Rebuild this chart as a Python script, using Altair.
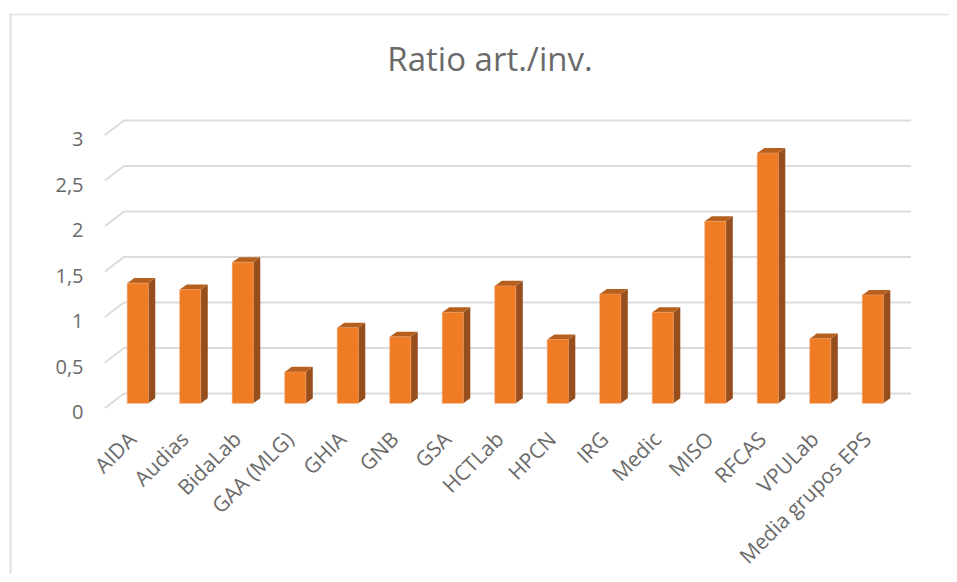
import altair as alt
import pandas as pd

categories = ["AIDA", "Audias", "BidaLab", "GAA (MLG)", "GHIA", "GNB", "GSA", "HCTLab", "HPCN",
              "IRG", "Medic", "MISO", "RFCAS", "VPULab", "Media grupos EPS"]
values = [1.32, 1.25, 1.55, 0.345, 0.83, 0.73, 1.0, 1.29, 0.70, 1.2, 1.0, 2.0, 2.75, 0.71, 1.19]
ticks = [0, 0.5, 1, 1.5, 2, 2.5, 3]

FONT = "Open Sans"
TEXT = "#6a6a6a"
W, H = 941, 566
xdom = [-2.472, 15.451]
ydom = [-1.876, 4.344]
HALF = 0.2            # half bar width, in category units
DX, DY = 0.133, 0.056  # bar depth
WALL_L, WALL_B, WALL_R = -0.263, 0.108, 14.728
FRONT_L, FRONT_D = -0.625, -0.052

bars = pd.DataFrame({"i": range(len(categories)), "cat": categories, "v": values})
bars["x0"] = bars.i - HALF
bars["x1"] = bars.i + HALF

side_rows, top_rows, grid_rows = [], [], []
for i, v in enumerate(values):
    r = i + HALF
    l = i - HALF
    side_rows += [dict(b=i, x=r, y=v, y2=0), dict(b=i, x=r + DX, y=v + DY, y2=DY)]
    top_rows += [dict(b=i, x=l, y=v, y2=v), dict(b=i, x=l + DX, y=v + DY, y2=v),
                 dict(b=i, x=r, y=v + DY, y2=v), dict(b=i, x=r + DX, y=v + DY, y2=v + DY)]
for t in ticks:
    grid_rows += [dict(t=t, o=0, x=FRONT_L, y=t + FRONT_D), dict(t=t, o=1, x=WALL_L, y=t + WALL_B),
                  dict(t=t, o=2, x=WALL_R, y=t + WALL_B)]

X = alt.Scale(domain=xdom, nice=False, zero=False)
Y = alt.Scale(domain=ydom, nice=False, zero=False)
names = "[" + ",".join("'%s'" % c for c in categories) + "]"

x_axis = alt.Axis(values=list(range(len(categories))), labelExpr=names + "[datum.value]",
                  labelAngle=-45, labelAlign="right", labelBaseline="middle", labelFont=FONT, labelFontSize=21,
                  labelColor=TEXT, labelOverlap=False, labelBound=False, labelFlush=False,
                  ticks=False, domain=False, grid=False, title=None, offset=-144, labelPadding=6, labelOffset=-5)
y_axis = alt.Axis(values=ticks, labelExpr="replace(format(datum.value,'~g'),'.',',')",
                  labelFont=FONT, labelFontSize=20, labelColor=TEXT, labelOverlap=False, labelBound=False,
                  labelOffset=9.5, ticks=False, domain=False, grid=False, title=None, offset=-75, labelPadding=0)

grid = alt.Chart(pd.DataFrame(grid_rows)).mark_line(color="#dcdcdc", strokeWidth=2).encode(
    x=alt.X("x:Q", scale=X, axis=x_axis), y=alt.Y("y:Q", scale=Y, axis=y_axis), detail="t:N", order="o:Q")

side = alt.Chart(pd.DataFrame(side_rows)).mark_area(color="#964e1c").encode(
    x=alt.X("x:Q", scale=X, axis=x_axis), y=alt.Y("y:Q", scale=Y, axis=y_axis), y2="y2:Q", detail="b:N")
top = alt.Chart(pd.DataFrame(top_rows)).mark_area(color="#b5601f").encode(
    x=alt.X("x:Q", scale=X, axis=x_axis), y=alt.Y("y:Q", scale=Y, axis=y_axis), y2="y2:Q", detail="b:N")
front = alt.Chart(bars).mark_bar(color="#EF7B24", stroke="#f09a5f", strokeWidth=0.6).encode(
    x=alt.X("x0:Q", scale=X, axis=x_axis), x2="x1:Q",
    y=alt.Y("v:Q", scale=Y, axis=y_axis), y2=alt.datum(0))

one = pd.DataFrame({"a": [0]})
border_l = alt.Chart(one).mark_rule(color="#e4e4e4", strokeWidth=2.5).encode(
    x=alt.value(2.5), y=alt.value(6), y2=alt.value(H))
border_t = alt.Chart(one).mark_rule(color="#e4e4e4", strokeWidth=1.5).encode(
    x=alt.value(2), x2=alt.value(W), y=alt.value(6.5))
title = alt.Chart(one).mark_text(text="Ratio art./inv.", font=FONT, fontSize=33, color="#6a6a6a").encode(
    x=alt.value(482), y=alt.value(53))

chart = alt.layer(border_l, border_t, grid, side, top, front, title).properties(
    width=W, height=H, padding=0, autosize=alt.AutoSizeParams(type="none")
).configure_view(stroke=None).resolve_scale(x="shared", y="shared")

chart.save("out.html", embed_options={"renderer": "svg", "actions": False})
